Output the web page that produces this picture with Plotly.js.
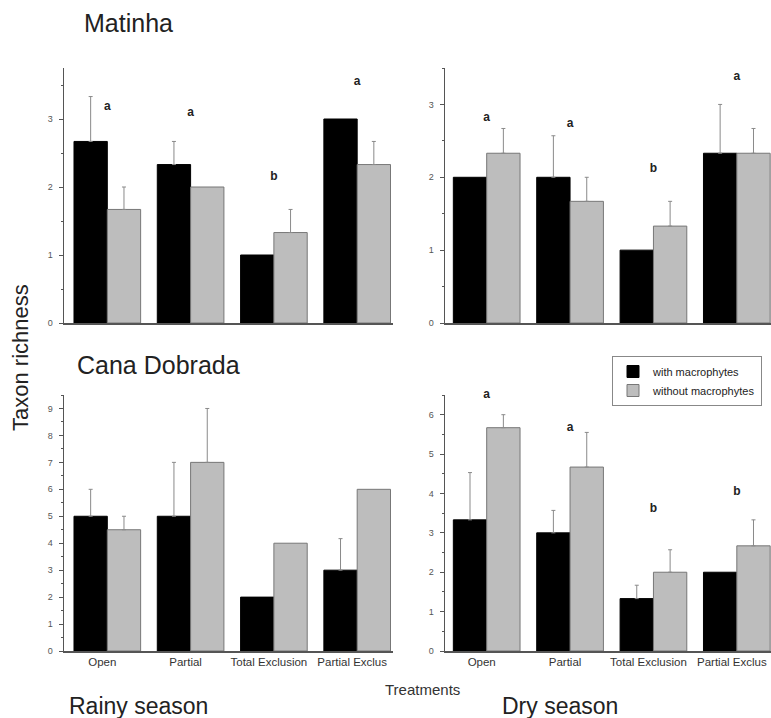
<!DOCTYPE html>
<html>
<head>
<meta charset="utf-8">
<script src="https://cdn.plot.ly/plotly-3.0.1.min.js"></script>
<style>html,body{margin:0;padding:0;background:#fff;}#chart{width:771px;height:718px;}</style>
</head>
<body>
<div id="chart"></div>
<script>
// ---- Data ----
const categories = ["Open", "Partial", "Total Exclusion", "Partial Exclus"];
const seriesNames = ["with macrophytes", "without macrophytes"];

// Matinha - rainy season
const matRainyWith = [2.67, 2.33, 1.0, 3.0];
const matRainyWithErrTop = [3.33, 2.67, null, null];
const matRainyWithout = [1.67, 2.0, 1.33, 2.33];
const matRainyWithoutErrTop = [2.0, null, 1.67, 2.67];
const matRainyLetters = ["a", "a", "b", "a"];
const matRainyLetterY = [3.17, 3.09, 2.15, 3.55];

// Matinha - dry season
const matDryWith = [2.0, 2.0, 1.0, 2.33];
const matDryWithErrTop = [null, 2.57, null, 3.0];
const matDryWithout = [2.33, 1.67, 1.33, 2.33];
const matDryWithoutErrTop = [2.67, 2.0, 1.67, 2.67];
const matDryLetters = ["a", "a", "b", "a"];
const matDryLetterY = [2.81, 2.73, 2.11, 3.37];

// Cana Dobrada - rainy season
const canaRainyWith = [5, 5, 2, 3];
const canaRainyWithErrTop = [6, 7, null, 4.17];
const canaRainyWithout = [4.5, 7, 4, 6];
const canaRainyWithoutErrTop = [5, 9, null, null];

// Cana Dobrada - dry season
const canaDryWith = [3.33, 3.0, 1.33, 2.0];
const canaDryWithErrTop = [4.53, 3.57, 1.67, null];
const canaDryWithout = [5.67, 4.67, 2.0, 2.67];
const canaDryWithoutErrTop = [6.0, 5.55, 2.57, 3.33];
const canaDryLetters = ["a", "a", "b", "b"];
const canaDryLetterY = [6.5, 5.67, 3.6, 4.03];

// ---- Styling ----
const BLACK = "#000000", GRAY = "#bdbdbd";
const AXIS = "#555555";

function errBar(vals, tops) {
  return {
    type: "data", symmetric: false, visible: true,
    array: vals.map((v, i) => tops[i] == null ? NaN : tops[i] - v),
    arrayminus: tops.map(t => t == null ? NaN : 0),
    color: "#8a8a8a", thickness: 1, width: 2
  };
}

function bars(vals, tops, name, color, line, xa, ya, showLegend) {
  return {
    type: "bar", x: categories, y: vals, name: name,
    xaxis: xa, yaxis: ya, showlegend: showLegend, legendgroup: name,
    marker: { color: color, line: { color: line, width: 1 } },
    error_y: errBar(vals, tops), hoverinfo: "skip"
  };
}

function letters(txt, ys, xa, ya) {
  return {
    type: "scatter", mode: "text", x: categories, y: ys, text: txt,
    xaxis: xa, yaxis: ya, showlegend: false, cliponaxis: false,
    textfont: { family: "Liberation Sans, Arial", size: 12, color: "#222222", weight: "bold" },
    hoverinfo: "skip"
  };
}

const data = [
  bars(matRainyWith, matRainyWithErrTop, seriesNames[0], BLACK, "#000", "x", "y", true),
  bars(matRainyWithout, matRainyWithoutErrTop, seriesNames[1], GRAY, "#777", "x", "y", true),
  letters(matRainyLetters, matRainyLetterY, "x", "y"),
  bars(matDryWith, matDryWithErrTop, seriesNames[0], BLACK, "#000", "x2", "y2", false),
  bars(matDryWithout, matDryWithoutErrTop, seriesNames[1], GRAY, "#777", "x2", "y2", false),
  letters(matDryLetters, matDryLetterY, "x2", "y2"),
  bars(canaRainyWith, canaRainyWithErrTop, seriesNames[0], BLACK, "#000", "x3", "y3", false),
  bars(canaRainyWithout, canaRainyWithoutErrTop, seriesNames[1], GRAY, "#777", "x3", "y3", false),
  bars(canaDryWith, canaDryWithErrTop, seriesNames[0], BLACK, "#000", "x4", "y4", false),
  bars(canaDryWithout, canaDryWithoutErrTop, seriesNames[1], GRAY, "#777", "x4", "y4", false),
  letters(canaDryLetters, canaDryLetterY, "x4", "y4")
];

const W = 771, H = 718;
const px = v => v / W, py = v => 1 - v / H;

function xAxis(dom, rng, anchor, showLabels) {
  return {
    domain: dom, range: rng, anchor: anchor, type: "category",
    showline: true, linecolor: AXIS, linewidth: 1.5, showgrid: false, zeroline: false,
    ticks: "", showticklabels: showLabels, fixedrange: true, ticklabelshift: -5,
    tickfont: { family: "Liberation Sans, Arial", size: 11.5, color: "#333" }
  };
}
function yAxis(dom, rng, anchor) {
  return {
    domain: dom, range: rng, anchor: anchor,
    showline: true, linecolor: AXIS, linewidth: 1.5, showgrid: false, zeroline: false,
    ticks: "outside", ticklen: 4, tickwidth: 1, tickcolor: AXIS, dtick: 1,
    minor: { ticks: "outside", ticklen: 2, tickcolor: AXIS, dtick: 0.5, showgrid: false },
    tickfont: { family: "Liberation Sans, Arial", size: 9, color: "#555" },
    ticklabelstandoff: 4, fixedrange: true
  };
}

const xLeft = [px(64), px(393)], xRight = [px(445), 1];
const yTop = [py(323), py(68)], yBot = [py(651), py(395)];

const layout = {
  width: W, height: H,
  margin: { l: 0, r: 0, t: 0, b: 0 },
  paper_bgcolor: "#fff", plot_bgcolor: "#fff",
  barmode: "group", bargap: 0.2, bargroupgap: 0,
  font: { family: "Liberation Sans, Arial", color: "#222" },
  xaxis: xAxis(xLeft, [-0.52, 3.43], "y", false),
  yaxis: yAxis(yTop, [0, 3.75], "x"),
  xaxis2: xAxis(xRight, [-0.5, 3.41], "y2", false),
  yaxis2: yAxis(yTop, [0, 3.5], "x2"),
  xaxis3: xAxis(xLeft, [-0.52, 3.43], "y3", true),
  yaxis3: yAxis(yBot, [0, 9.5], "x3"),
  xaxis4: xAxis(xRight, [-0.5, 3.41], "y4", true),
  yaxis4: yAxis(yBot, [0, 6.5], "x4"),
  legend: {
    x: px(612), y: py(356), xanchor: "left", yanchor: "top",
    bordercolor: "#888", borderwidth: 1, bgcolor: "#fff",
    font: { family: "Liberation Sans, Arial", size: 11, color: "#222" },
    tracegroupgap: 0, itemwidth: 30
  },
  annotations: [
    { text: "Matinha", x: px(82), y: py(23), xref: "paper", yref: "paper", xanchor: "left", yanchor: "middle", showarrow: false, font: { size: 25, color: "#222" } },
    { text: "Cana Dobrada", x: px(75), y: py(365), xref: "paper", yref: "paper", xanchor: "left", yanchor: "middle", showarrow: false, font: { size: 25, color: "#222" } },
    { text: "Taxon richness", x: px(20), y: py(358), xref: "paper", yref: "paper", xanchor: "center", yanchor: "middle", textangle: -90, showarrow: false, font: { size: 22, color: "#222" } },
    { text: "Treatments", x: px(422), y: py(689), xref: "paper", yref: "paper", xanchor: "center", yanchor: "middle", showarrow: false, font: { size: 15, color: "#333" } },
    { text: "Rainy season", x: px(67), y: py(706), xref: "paper", yref: "paper", xanchor: "left", yanchor: "middle", showarrow: false, font: { size: 23, color: "#222" } },
    { text: "Dry season", x: px(500), y: py(706), xref: "paper", yref: "paper", xanchor: "left", yanchor: "middle", showarrow: false, font: { size: 23, color: "#222" } }
  ]
};

Plotly.newPlot("chart", data, layout, { displayModeBar: false, staticPlot: true });
</script>
</body>
</html>
